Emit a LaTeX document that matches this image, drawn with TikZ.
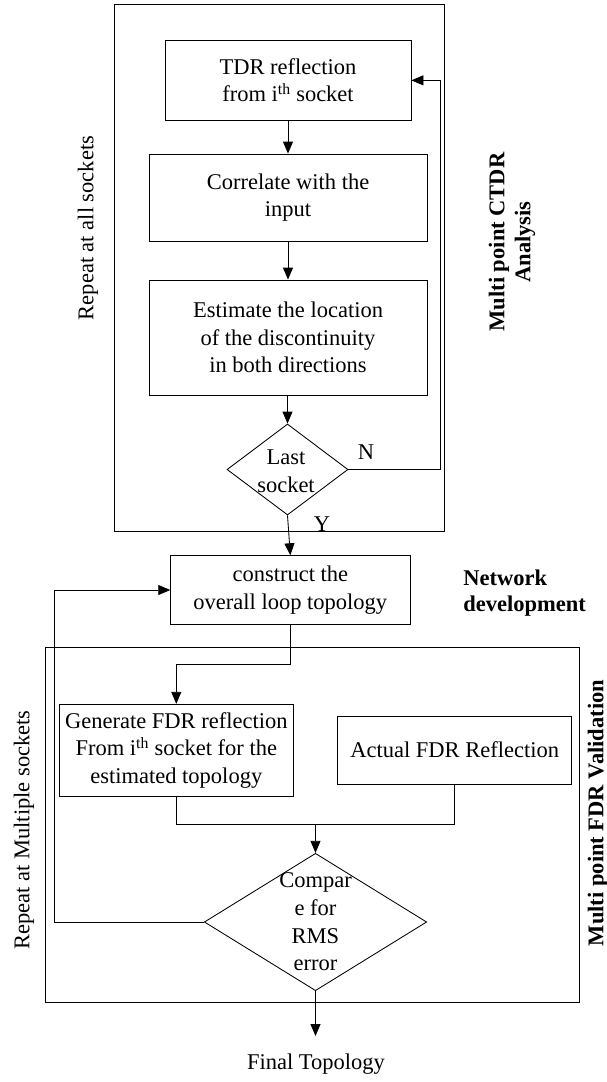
\documentclass[tikz,border=0pt]{standalone}
\usepackage{fontspec}
\setmainfont{Liberation Serif}
\usetikzlibrary{shapes.geometric,arrows.meta}
\begin{document}
\begin{tikzpicture}[x=1pt,y=-1pt,
  line width=0.85pt,
  every node/.style={font=\fontsize{22.5}{27.6}\selectfont, inner sep=0pt},
  proc/.style={draw, rectangle, align=center},
  dec/.style={draw, diamond},
  txt/.style={align=center},
  side/.style={rotate=90, align=center},
  lbl/.style={font=\fontsize{22.5}{26}\selectfont\bfseries},
  arr/.style={-{Triangle[length=12pt,width=10pt]}}]
\useasboundingbox (0,0) rectangle (607,1082);

% group frames
\draw (114.3,4) rectangle (444,531);
\draw (45,647.3) rectangle (579.3,1002.3);

% CTDR analysis loop
\node[proc, minimum width=246pt, minimum height=79.3pt] (tdr) at (288,80.35)
  {TDR reflection\\from i\textsuperscript{th} socket};
\node[proc, minimum width=278pt, minimum height=87pt] (corr) at (288,197.5)
  {Correlate with the\\input};
\node[proc, minimum width=278pt, minimum height=115pt] (est) at (288,337.5)
  {Estimate the location\\of the discontinuity\\in both directions};
\node[dec, minimum width=121pt, minimum height=91pt] (d1) at (287.5,469.5) {};
\node[txt] (d1t) at (286,471) {Last\\socket};
\node (nlab) at (366,452) {N};
\node (ylab) at (322,524) {Y};

% network development
\node[proc, minimum width=239.3pt, minimum height=68.6pt] (cons) at (290.35,590)
  {construct the\\overall loop topology};

% FDR validation loop
\node[proc, minimum width=234pt, minimum height=91.7pt] (gen) at (176.3,750.15)
  {Generate FDR reflection\\From i\textsuperscript{th} socket for the\\estimated topology};
\node[proc, minimum width=234pt, minimum height=68.3pt] (act) at (454.7,750.15)
  {Actual FDR Reflection};
\node[dec, minimum width=222.4pt, minimum height=137.4pt] (d2) at (315.5,922) {};
\node[txt] (d2t) at (315.5,922) {Compar\\e for\\RMS\\error};
\node (fin) at (316,1064) {Final Topology};

% side captions
\node[side] (rep1) at (88,228) {Repeat at all sockets};
\node[side, lbl] (cap1) at (512,242) {Multi point CTDR\\Analysis};
\node[lbl, align=left, anchor=west] (cap2) at (463,593) {Network\\development};
\node[side] (rep2) at (24,830) {Repeat at Multiple sockets};
\node[side, lbl] (cap3) at (598,813) {Multi point FDR Validation};

% routing points
\coordinate (fb) at (440,80.35);
\coordinate (lp) at (54,590);
\coordinate (c1) at (290.35,664);
\coordinate (mg) at (315.5,824.5);
\coordinate (fe) at (315.5,1036);

% connectors
\draw[arr] (tdr) -- (corr);
\draw[arr] (corr) -- (est);
\draw[arr] (est.south -| d1.north) -- (d1.north);
\draw[arr] (d1.east) -| (fb) -- (tdr.east);
\draw[arr] (d1.south) -- (cons.north);
\draw[arr] (cons.south) -- (c1) -| (gen.north);
\draw (gen.south) |- (mg);
\draw (act.south) |- (mg);
\draw[arr] (mg) -- (d2.north);
\draw[arr] (d2.west) -| (lp) -- (cons.west);
\draw[arr] (d2.south) -- (fe);
\end{tikzpicture}
\end{document}
